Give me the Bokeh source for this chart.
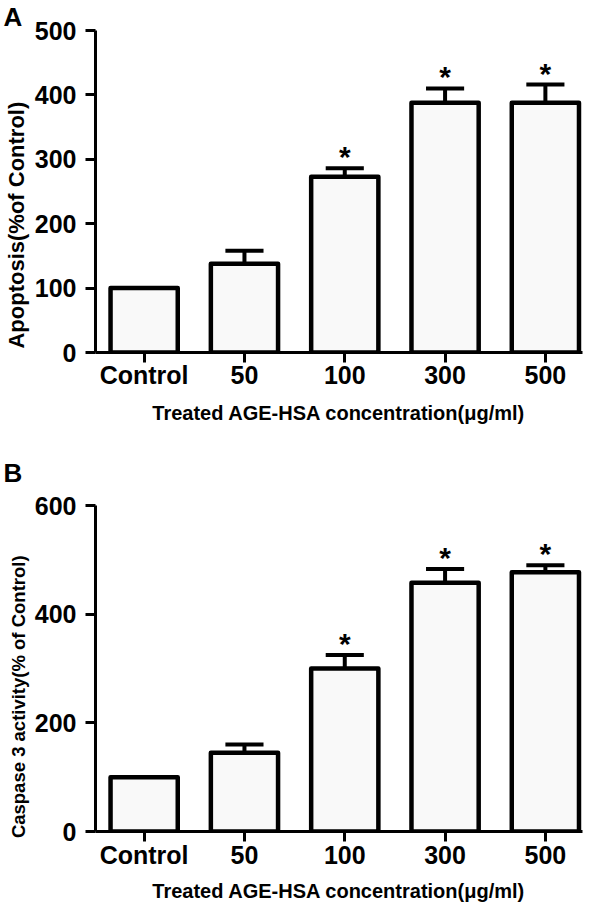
from bokeh.plotting import figure
from bokeh.layouts import column
from bokeh.models import FixedTicker, Range1d, ColumnDataSource, Title
from bokeh.embed import file_html
from bokeh.resources import INLINE
from bokeh.core.properties import value

categories = ["Control", "50", "100", "300", "500"]
apoptosis_mean = [100, 138, 273, 388, 388]
apoptosis_err = [0, 20, 13, 22, 28]
apoptosis_sig = ["", "", "*", "*", "*"]
caspase_mean = [100, 145, 300, 458, 477]
caspase_err = [0, 15, 25, 25, 13]
caspase_sig = ["", "", "*", "*", "*"]
apoptosis_ticks = [0, 100, 200, 300, 400, 500]
caspase_ticks = [0, 200, 400, 600]
x_title = "Treated AGE-HSA concentration(\u03bcg/ml)"
apoptosis_title = "Apoptosis(%of Control)"
caspase_title = "Caspase 3 activity(% of Control)"

FONT = "Liberation Sans"
BAR_W = 0.67
CAP_HALF = 0.19
NBSP = "\u00a0"


def panel(letter, means, errs, sigs, ticks, ylabel, ylabel_size, ylabel_pad, height, b_top, b_bottom,
          label_standoff, title_standoff, letter_standoff):
    ymax = ticks[-1]
    p = figure(width=584, height=height, output_backend="svg", toolbar_location=None,
               x_range=Range1d(-0.485, 4.37), y_range=Range1d(0, ymax),
               min_border_left=92, min_border_right=2, min_border_top=b_top,
               min_border_bottom=b_bottom)
    p.outline_line_color = None
    p.grid.visible = False
    idx = list(range(len(categories)))
    tops = [m + e for m, e in zip(means, errs)]
    src = ColumnDataSource(dict(
        x=idx, mean=means, top=tops, sig=sigs,
        cl=[i - CAP_HALF for i in idx], cr=[i + CAP_HALF for i in idx]))
    p.segment(x0="x", y0="mean", x1="x", y1="top", source=src, line_width=4, line_color="black")
    p.segment(x0="cl", y0="top", x1="cr", y1="top", source=src, line_width=4, line_color="black")
    p.vbar(x="x", top="mean", bottom=0, width=BAR_W, source=src, fill_color="#f9f9f9",
           line_color="black", line_width=4.5, line_join="round")
    p.text(x="x", y="top", text="sig", source=src, text_align="center", text_baseline="bottom",
           text_font=value(FONT), text_font_style="bold", text_font_size="30px", text_color="black",
           y_offset=5)

    for ax in (p.xaxis[0], p.yaxis[0]):
        ax.axis_line_width = 3
        ax.axis_line_color = "black"
        ax.major_tick_line_width = 3
        ax.major_tick_line_color = "black"
        ax.major_tick_out = 10
        ax.major_tick_in = 0
        ax.minor_tick_line_color = None
        ax.major_label_text_font = FONT
        ax.major_label_text_font_style = "bold"
        ax.major_label_text_font_size = "25px"
        ax.major_label_text_color = "black"
        ax.axis_label_text_font = FONT
        ax.axis_label_text_font_style = "bold"
        ax.axis_label_text_color = "black"
    p.xaxis.ticker = FixedTicker(ticks=idx)
    p.xaxis.major_label_overrides = {i: c for i, c in zip(idx, categories)}
    p.xaxis.major_label_standoff = label_standoff
    p.xaxis.axis_label = x_title
    p.xaxis.axis_label_text_font_size = "20px"
    p.xaxis.axis_label_standoff = title_standoff
    p.yaxis.ticker = FixedTicker(ticks=ticks)
    p.yaxis.major_label_standoff = 9
    # trailing no-break spaces push the rotated title toward the bottom of the axis, as in the original
    p.yaxis.axis_label = ylabel + NBSP * ylabel_pad
    p.yaxis.axis_label_text_font_size = ylabel_size
    p.yaxis.axis_label_standoff = 3

    t = Title(text=letter, align="left", offset=-92, standoff=letter_standoff,
              text_font=FONT, text_font_style="bold", text_font_size="26px", text_color="black")
    p.add_layout(t, "above")
    return p


pa = panel("A", apoptosis_mean, apoptosis_err, apoptosis_sig, apoptosis_ticks, apoptosis_title,
           "22px", 11, 433, 25, 81, -2, 10, -2)
pb = panel("B", caspase_mean, caspase_err, caspase_sig, caspase_ticks, caspase_title,
           "18.5px", 11, 471, 72, 69, -1, 8, 35)

layout = column(pa, pb, spacing=0)
open("out.html", "w").write(file_html(layout, INLINE))
